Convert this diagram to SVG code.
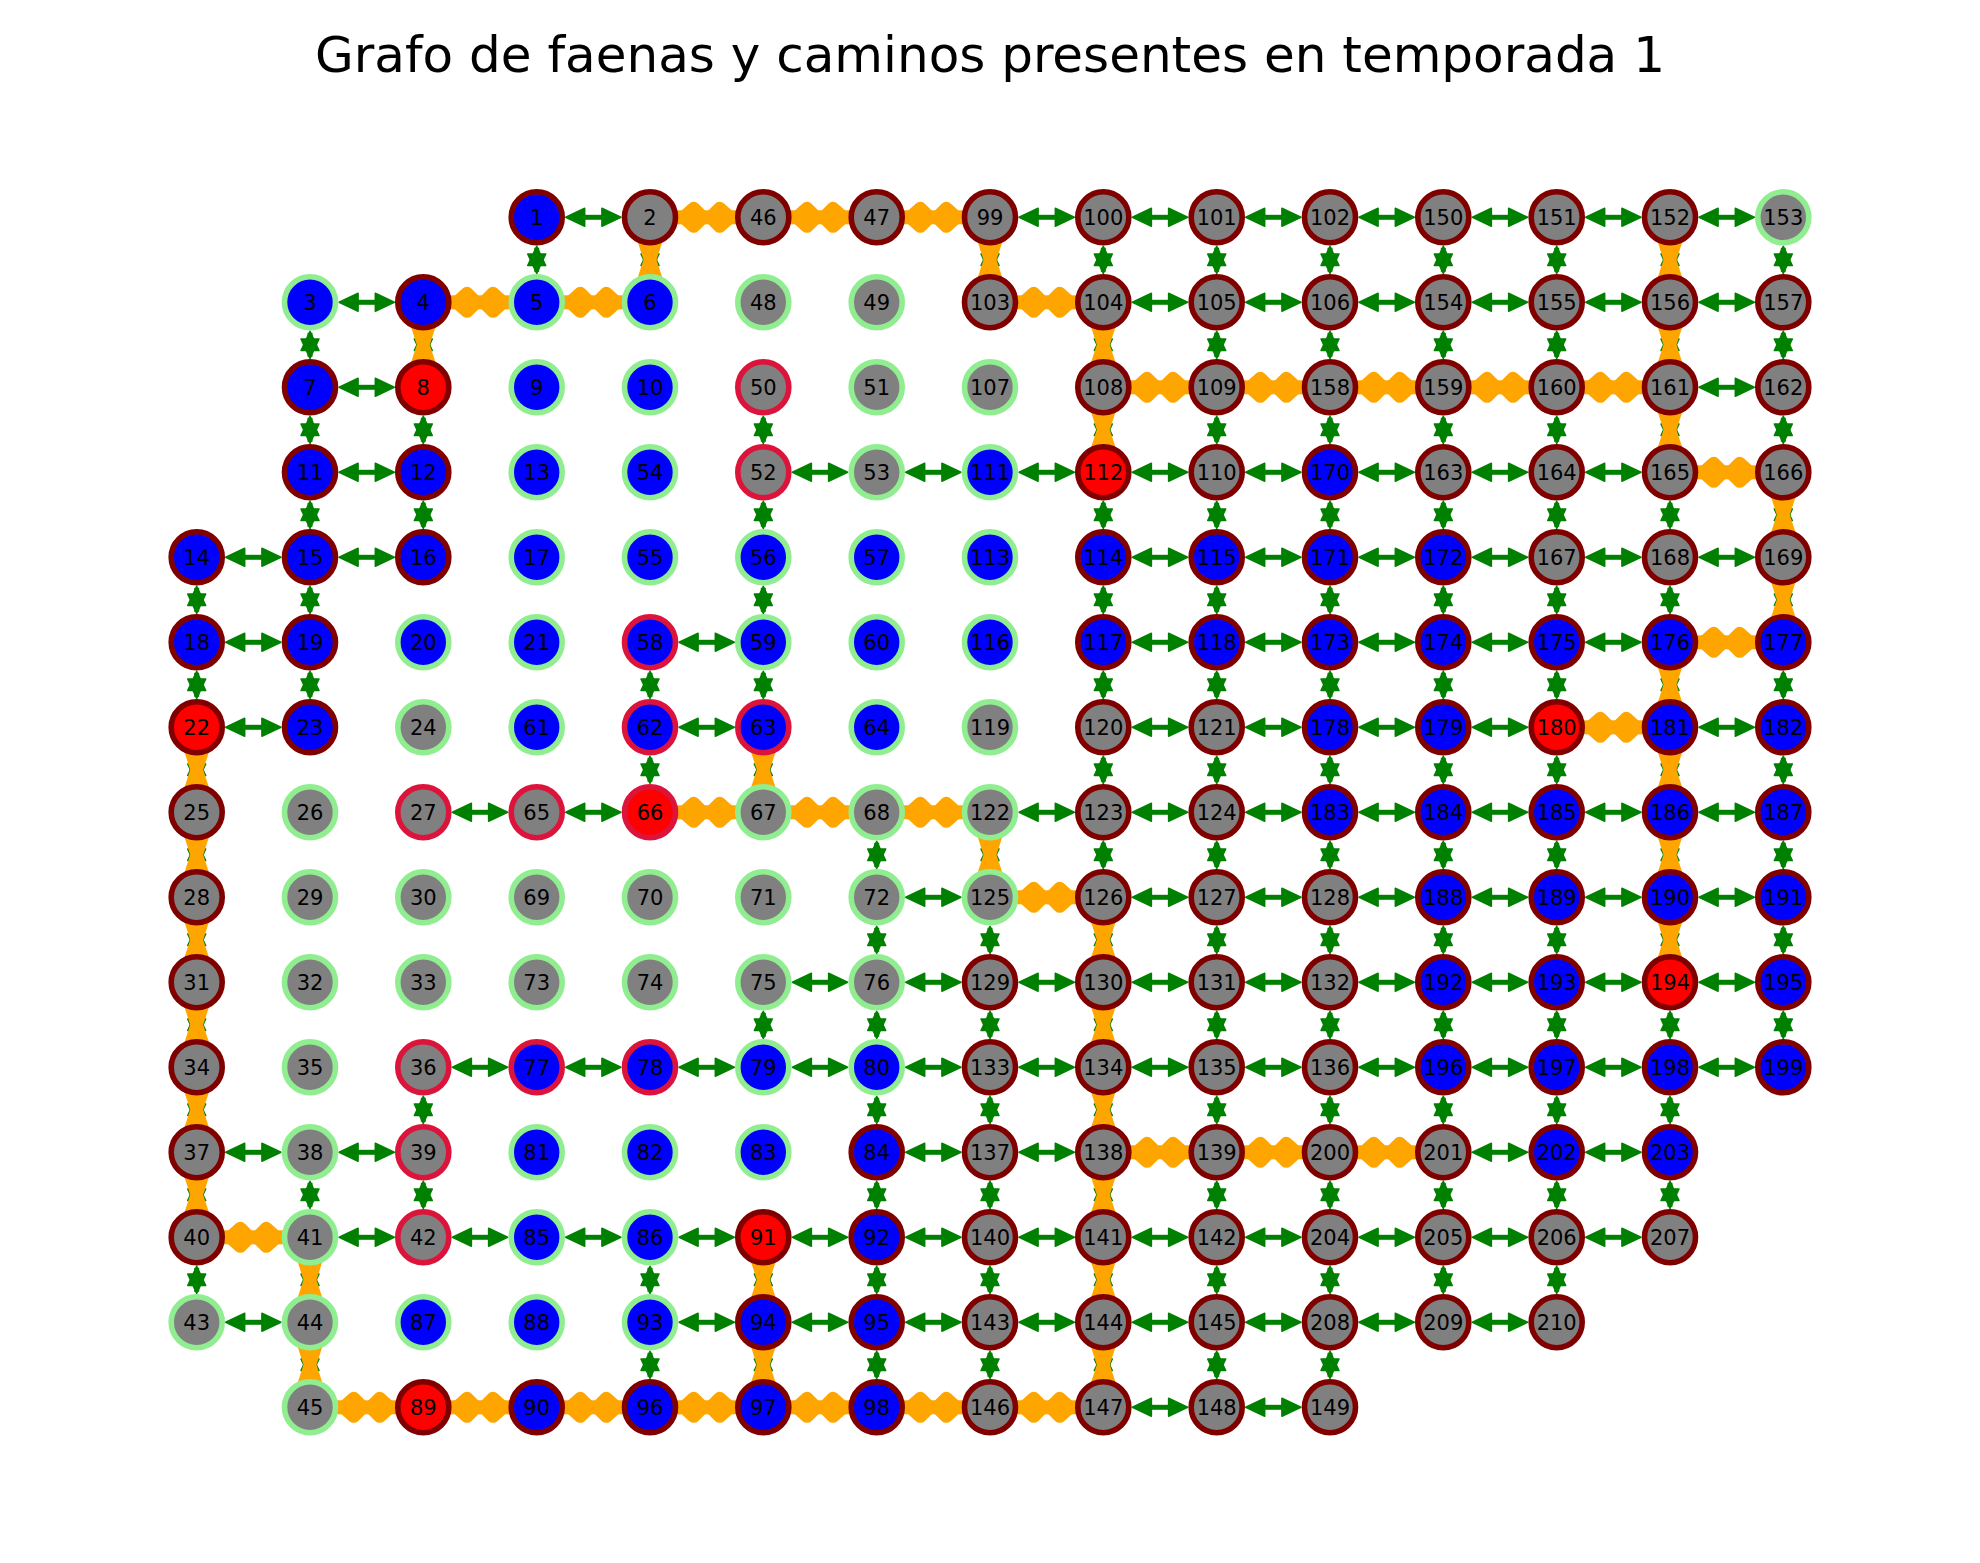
<svg xmlns="http://www.w3.org/2000/svg" xmlns:xlink="http://www.w3.org/1999/xlink" width="1980" height="1563" viewBox="0 0 1980 1563">
<style>
.b{fill:#0000ff}.g{fill:#808080}.r{fill:#ff0000}
.m{stroke:#800000}.l{stroke:#90ee90}.c{stroke:#dc143c}
circle{stroke-width:5.6}
text{font-family:"DejaVu Sans",sans-serif;font-size:21px;text-anchor:middle;fill:#000}
.title{font-size:50px}
.gf{fill:#008000;stroke:#008000;stroke-width:1.5;stroke-linejoin:round}
.gs{stroke:#008000;stroke-width:5}
.of{fill:#ffa500}
.os{fill:#ffa500;stroke:#ffa500;stroke-width:13;stroke-linejoin:round}
</style>
<defs>
<g id="gh"><line class="gs" x1="-12" y1="0" x2="12" y2="0"/><polygon class="gf" points="-27.6,0 -8.6,-9 -8.6,9"/><polygon class="gf" points="27.6,0 8.6,-9 8.6,9"/></g>
<g id="gv"><line class="gs" x1="0" y1="-12" x2="0" y2="12"/><polygon class="gf" points="0,-13.6 9,5.8 -9,5.8"/><polygon class="gf" points="0,13.6 9,-5.8 -9,-5.8"/></g>
<g id="oh"><rect class="of" x="-30" y="-7" width="60" height="14"/><polygon class="os" points="-23,0 -13,-9 -4,0 -13,9"/><polygon class="os" points="23,0 13,-9 4,0 13,9"/></g>
<g id="ov"><polygon class="of" points="-13,-20 13,-20 6.5,0 13,20 -13,20 -6.5,0"/></g>
</defs>
<rect width="1980" height="1563" fill="#ffffff"/>
<text class="title" x="990" y="72">Grafo de faenas y caminos presentes en temporada 1</text>
<g id="edges">
<g id="green-h">
<use href="#gh" x="593.3" y="217.3"/><use href="#gh" x="706.7" y="217.3"/><use href="#gh" x="820" y="217.3"/><use href="#gh" x="933.3" y="217.3"/><use href="#gh" x="1046.7" y="217.3"/><use href="#gh" x="1160" y="217.3"/><use href="#gh" x="1273.3" y="217.3"/><use href="#gh" x="1386.7" y="217.3"/><use href="#gh" x="1500" y="217.3"/><use href="#gh" x="1613.3" y="217.3"/><use href="#gh" x="1726.7" y="217.3"/>
<use href="#gh" x="366.7" y="302.3"/><use href="#gh" x="480" y="302.3"/><use href="#gh" x="593.3" y="302.3"/><use href="#gh" x="1046.7" y="302.3"/><use href="#gh" x="1160" y="302.3"/><use href="#gh" x="1273.3" y="302.3"/><use href="#gh" x="1386.7" y="302.3"/><use href="#gh" x="1500" y="302.3"/><use href="#gh" x="1613.3" y="302.3"/><use href="#gh" x="1726.7" y="302.3"/>
<use href="#gh" x="366.7" y="387.3"/><use href="#gh" x="1160" y="387.3"/><use href="#gh" x="1273.3" y="387.3"/><use href="#gh" x="1386.7" y="387.3"/><use href="#gh" x="1500" y="387.3"/><use href="#gh" x="1613.3" y="387.3"/><use href="#gh" x="1726.7" y="387.3"/>
<use href="#gh" x="366.7" y="472.3"/><use href="#gh" x="820" y="472.3"/><use href="#gh" x="933.3" y="472.3"/><use href="#gh" x="1046.7" y="472.3"/><use href="#gh" x="1160" y="472.3"/><use href="#gh" x="1273.3" y="472.3"/><use href="#gh" x="1386.7" y="472.3"/><use href="#gh" x="1500" y="472.3"/><use href="#gh" x="1613.3" y="472.3"/><use href="#gh" x="1726.7" y="472.3"/>
<use href="#gh" x="253.3" y="557.3"/><use href="#gh" x="366.7" y="557.3"/><use href="#gh" x="1160" y="557.3"/><use href="#gh" x="1273.3" y="557.3"/><use href="#gh" x="1386.7" y="557.3"/><use href="#gh" x="1500" y="557.3"/><use href="#gh" x="1613.3" y="557.3"/><use href="#gh" x="1726.7" y="557.3"/>
<use href="#gh" x="253.3" y="642.3"/><use href="#gh" x="706.7" y="642.3"/><use href="#gh" x="1160" y="642.3"/><use href="#gh" x="1273.3" y="642.3"/><use href="#gh" x="1386.7" y="642.3"/><use href="#gh" x="1500" y="642.3"/><use href="#gh" x="1613.3" y="642.3"/><use href="#gh" x="1726.7" y="642.3"/>
<use href="#gh" x="253.3" y="727.3"/><use href="#gh" x="706.7" y="727.3"/><use href="#gh" x="1160" y="727.3"/><use href="#gh" x="1273.3" y="727.3"/><use href="#gh" x="1386.7" y="727.3"/><use href="#gh" x="1500" y="727.3"/><use href="#gh" x="1613.3" y="727.3"/><use href="#gh" x="1726.7" y="727.3"/>
<use href="#gh" x="480" y="812.3"/><use href="#gh" x="593.3" y="812.3"/><use href="#gh" x="706.7" y="812.3"/><use href="#gh" x="820" y="812.3"/><use href="#gh" x="933.3" y="812.3"/><use href="#gh" x="1046.7" y="812.3"/><use href="#gh" x="1160" y="812.3"/><use href="#gh" x="1273.3" y="812.3"/><use href="#gh" x="1386.7" y="812.3"/><use href="#gh" x="1500" y="812.3"/><use href="#gh" x="1613.3" y="812.3"/><use href="#gh" x="1726.7" y="812.3"/>
<use href="#gh" x="933.3" y="897.3"/><use href="#gh" x="1046.7" y="897.3"/><use href="#gh" x="1160" y="897.3"/><use href="#gh" x="1273.3" y="897.3"/><use href="#gh" x="1386.7" y="897.3"/><use href="#gh" x="1500" y="897.3"/><use href="#gh" x="1613.3" y="897.3"/><use href="#gh" x="1726.7" y="897.3"/>
<use href="#gh" x="820" y="982.3"/><use href="#gh" x="933.3" y="982.3"/><use href="#gh" x="1046.7" y="982.3"/><use href="#gh" x="1160" y="982.3"/><use href="#gh" x="1273.3" y="982.3"/><use href="#gh" x="1386.7" y="982.3"/><use href="#gh" x="1500" y="982.3"/><use href="#gh" x="1613.3" y="982.3"/><use href="#gh" x="1726.7" y="982.3"/>
<use href="#gh" x="480" y="1067.3"/><use href="#gh" x="593.3" y="1067.3"/><use href="#gh" x="706.7" y="1067.3"/><use href="#gh" x="820" y="1067.3"/><use href="#gh" x="933.3" y="1067.3"/><use href="#gh" x="1046.7" y="1067.3"/><use href="#gh" x="1160" y="1067.3"/><use href="#gh" x="1273.3" y="1067.3"/><use href="#gh" x="1386.7" y="1067.3"/><use href="#gh" x="1500" y="1067.3"/><use href="#gh" x="1613.3" y="1067.3"/><use href="#gh" x="1726.7" y="1067.3"/>
<use href="#gh" x="253.3" y="1152.3"/><use href="#gh" x="366.7" y="1152.3"/><use href="#gh" x="933.3" y="1152.3"/><use href="#gh" x="1046.7" y="1152.3"/><use href="#gh" x="1160" y="1152.3"/><use href="#gh" x="1273.3" y="1152.3"/><use href="#gh" x="1386.7" y="1152.3"/><use href="#gh" x="1500" y="1152.3"/><use href="#gh" x="1613.3" y="1152.3"/>
<use href="#gh" x="253.3" y="1237.3"/><use href="#gh" x="366.7" y="1237.3"/><use href="#gh" x="480" y="1237.3"/><use href="#gh" x="593.3" y="1237.3"/><use href="#gh" x="706.7" y="1237.3"/><use href="#gh" x="820" y="1237.3"/><use href="#gh" x="933.3" y="1237.3"/><use href="#gh" x="1046.7" y="1237.3"/><use href="#gh" x="1160" y="1237.3"/><use href="#gh" x="1273.3" y="1237.3"/><use href="#gh" x="1386.7" y="1237.3"/><use href="#gh" x="1500" y="1237.3"/><use href="#gh" x="1613.3" y="1237.3"/>
<use href="#gh" x="253.3" y="1322.3"/><use href="#gh" x="706.7" y="1322.3"/><use href="#gh" x="820" y="1322.3"/><use href="#gh" x="933.3" y="1322.3"/><use href="#gh" x="1046.7" y="1322.3"/><use href="#gh" x="1160" y="1322.3"/><use href="#gh" x="1273.3" y="1322.3"/><use href="#gh" x="1386.7" y="1322.3"/><use href="#gh" x="1500" y="1322.3"/>
<use href="#gh" x="366.7" y="1407.3"/><use href="#gh" x="480" y="1407.3"/><use href="#gh" x="593.3" y="1407.3"/><use href="#gh" x="706.7" y="1407.3"/><use href="#gh" x="820" y="1407.3"/><use href="#gh" x="933.3" y="1407.3"/><use href="#gh" x="1046.7" y="1407.3"/><use href="#gh" x="1160" y="1407.3"/><use href="#gh" x="1273.3" y="1407.3"/>
</g>
<g id="green-v">
<use href="#gv" x="196.7" y="599.8"/><use href="#gv" x="196.7" y="684.8"/><use href="#gv" x="196.7" y="769.8"/><use href="#gv" x="196.7" y="854.8"/><use href="#gv" x="196.7" y="939.8"/><use href="#gv" x="196.7" y="1024.8"/><use href="#gv" x="196.7" y="1109.8"/><use href="#gv" x="196.7" y="1194.8"/><use href="#gv" x="196.7" y="1279.8"/>
<use href="#gv" x="310" y="344.8"/><use href="#gv" x="310" y="429.8"/><use href="#gv" x="310" y="514.8"/><use href="#gv" x="310" y="599.8"/><use href="#gv" x="310" y="684.8"/><use href="#gv" x="310" y="1194.8"/><use href="#gv" x="310" y="1279.8"/><use href="#gv" x="310" y="1364.8"/>
<use href="#gv" x="423.3" y="344.8"/><use href="#gv" x="423.3" y="429.8"/><use href="#gv" x="423.3" y="514.8"/><use href="#gv" x="423.3" y="1109.8"/><use href="#gv" x="423.3" y="1194.8"/>
<use href="#gv" x="536.7" y="259.8"/>
<use href="#gv" x="650" y="259.8"/><use href="#gv" x="650" y="684.8"/><use href="#gv" x="650" y="769.8"/><use href="#gv" x="650" y="1279.8"/><use href="#gv" x="650" y="1364.8"/>
<use href="#gv" x="763.3" y="429.8"/><use href="#gv" x="763.3" y="514.8"/><use href="#gv" x="763.3" y="599.8"/><use href="#gv" x="763.3" y="684.8"/><use href="#gv" x="763.3" y="769.8"/><use href="#gv" x="763.3" y="1024.8"/><use href="#gv" x="763.3" y="1279.8"/><use href="#gv" x="763.3" y="1364.8"/>
<use href="#gv" x="876.7" y="854.8"/><use href="#gv" x="876.7" y="939.8"/><use href="#gv" x="876.7" y="1024.8"/><use href="#gv" x="876.7" y="1109.8"/><use href="#gv" x="876.7" y="1194.8"/><use href="#gv" x="876.7" y="1279.8"/><use href="#gv" x="876.7" y="1364.8"/>
<use href="#gv" x="990" y="259.8"/><use href="#gv" x="990" y="854.8"/><use href="#gv" x="990" y="939.8"/><use href="#gv" x="990" y="1024.8"/><use href="#gv" x="990" y="1109.8"/><use href="#gv" x="990" y="1194.8"/><use href="#gv" x="990" y="1279.8"/><use href="#gv" x="990" y="1364.8"/>
<use href="#gv" x="1103.3" y="259.8"/><use href="#gv" x="1103.3" y="344.8"/><use href="#gv" x="1103.3" y="429.8"/><use href="#gv" x="1103.3" y="514.8"/><use href="#gv" x="1103.3" y="599.8"/><use href="#gv" x="1103.3" y="684.8"/><use href="#gv" x="1103.3" y="769.8"/><use href="#gv" x="1103.3" y="854.8"/><use href="#gv" x="1103.3" y="939.8"/><use href="#gv" x="1103.3" y="1024.8"/><use href="#gv" x="1103.3" y="1109.8"/><use href="#gv" x="1103.3" y="1194.8"/><use href="#gv" x="1103.3" y="1279.8"/><use href="#gv" x="1103.3" y="1364.8"/>
<use href="#gv" x="1216.7" y="259.8"/><use href="#gv" x="1216.7" y="344.8"/><use href="#gv" x="1216.7" y="429.8"/><use href="#gv" x="1216.7" y="514.8"/><use href="#gv" x="1216.7" y="599.8"/><use href="#gv" x="1216.7" y="684.8"/><use href="#gv" x="1216.7" y="769.8"/><use href="#gv" x="1216.7" y="854.8"/><use href="#gv" x="1216.7" y="939.8"/><use href="#gv" x="1216.7" y="1024.8"/><use href="#gv" x="1216.7" y="1109.8"/><use href="#gv" x="1216.7" y="1194.8"/><use href="#gv" x="1216.7" y="1279.8"/><use href="#gv" x="1216.7" y="1364.8"/>
<use href="#gv" x="1330" y="259.8"/><use href="#gv" x="1330" y="344.8"/><use href="#gv" x="1330" y="429.8"/><use href="#gv" x="1330" y="514.8"/><use href="#gv" x="1330" y="599.8"/><use href="#gv" x="1330" y="684.8"/><use href="#gv" x="1330" y="769.8"/><use href="#gv" x="1330" y="854.8"/><use href="#gv" x="1330" y="939.8"/><use href="#gv" x="1330" y="1024.8"/><use href="#gv" x="1330" y="1109.8"/><use href="#gv" x="1330" y="1194.8"/><use href="#gv" x="1330" y="1279.8"/><use href="#gv" x="1330" y="1364.8"/>
<use href="#gv" x="1443.3" y="259.8"/><use href="#gv" x="1443.3" y="344.8"/><use href="#gv" x="1443.3" y="429.8"/><use href="#gv" x="1443.3" y="514.8"/><use href="#gv" x="1443.3" y="599.8"/><use href="#gv" x="1443.3" y="684.8"/><use href="#gv" x="1443.3" y="769.8"/><use href="#gv" x="1443.3" y="854.8"/><use href="#gv" x="1443.3" y="939.8"/><use href="#gv" x="1443.3" y="1024.8"/><use href="#gv" x="1443.3" y="1109.8"/><use href="#gv" x="1443.3" y="1194.8"/><use href="#gv" x="1443.3" y="1279.8"/>
<use href="#gv" x="1556.7" y="259.8"/><use href="#gv" x="1556.7" y="344.8"/><use href="#gv" x="1556.7" y="429.8"/><use href="#gv" x="1556.7" y="514.8"/><use href="#gv" x="1556.7" y="599.8"/><use href="#gv" x="1556.7" y="684.8"/><use href="#gv" x="1556.7" y="769.8"/><use href="#gv" x="1556.7" y="854.8"/><use href="#gv" x="1556.7" y="939.8"/><use href="#gv" x="1556.7" y="1024.8"/><use href="#gv" x="1556.7" y="1109.8"/><use href="#gv" x="1556.7" y="1194.8"/><use href="#gv" x="1556.7" y="1279.8"/>
<use href="#gv" x="1670" y="259.8"/><use href="#gv" x="1670" y="344.8"/><use href="#gv" x="1670" y="429.8"/><use href="#gv" x="1670" y="514.8"/><use href="#gv" x="1670" y="599.8"/><use href="#gv" x="1670" y="684.8"/><use href="#gv" x="1670" y="769.8"/><use href="#gv" x="1670" y="854.8"/><use href="#gv" x="1670" y="939.8"/><use href="#gv" x="1670" y="1024.8"/><use href="#gv" x="1670" y="1109.8"/><use href="#gv" x="1670" y="1194.8"/>
<use href="#gv" x="1783.3" y="259.8"/><use href="#gv" x="1783.3" y="344.8"/><use href="#gv" x="1783.3" y="429.8"/><use href="#gv" x="1783.3" y="514.8"/><use href="#gv" x="1783.3" y="599.8"/><use href="#gv" x="1783.3" y="684.8"/><use href="#gv" x="1783.3" y="769.8"/><use href="#gv" x="1783.3" y="854.8"/><use href="#gv" x="1783.3" y="939.8"/><use href="#gv" x="1783.3" y="1024.8"/>
</g>
<g id="orange-h">
<use href="#oh" x="706.7" y="217.3"/><use href="#oh" x="820" y="217.3"/><use href="#oh" x="933.3" y="217.3"/>
<use href="#oh" x="480" y="302.3"/><use href="#oh" x="593.3" y="302.3"/><use href="#oh" x="1046.7" y="302.3"/>
<use href="#oh" x="1160" y="387.3"/><use href="#oh" x="1273.3" y="387.3"/><use href="#oh" x="1386.7" y="387.3"/><use href="#oh" x="1500" y="387.3"/><use href="#oh" x="1613.3" y="387.3"/>
<use href="#oh" x="1726.7" y="472.3"/>
<use href="#oh" x="1726.7" y="642.3"/>
<use href="#oh" x="1613.3" y="727.3"/>
<use href="#oh" x="706.7" y="812.3"/><use href="#oh" x="820" y="812.3"/><use href="#oh" x="933.3" y="812.3"/>
<use href="#oh" x="1046.7" y="897.3"/>
<use href="#oh" x="1160" y="1152.3"/><use href="#oh" x="1273.3" y="1152.3"/><use href="#oh" x="1386.7" y="1152.3"/>
<use href="#oh" x="253.3" y="1237.3"/>
<use href="#oh" x="366.7" y="1407.3"/><use href="#oh" x="480" y="1407.3"/><use href="#oh" x="593.3" y="1407.3"/><use href="#oh" x="706.7" y="1407.3"/><use href="#oh" x="820" y="1407.3"/><use href="#oh" x="933.3" y="1407.3"/><use href="#oh" x="1046.7" y="1407.3"/>
</g>
<g id="orange-v">
<use href="#ov" x="196.7" y="769.8"/><use href="#ov" x="196.7" y="854.8"/><use href="#ov" x="196.7" y="939.8"/><use href="#ov" x="196.7" y="1024.8"/><use href="#ov" x="196.7" y="1109.8"/><use href="#ov" x="196.7" y="1194.8"/>
<use href="#ov" x="310" y="1279.8"/><use href="#ov" x="310" y="1364.8"/>
<use href="#ov" x="423.3" y="344.8"/>
<use href="#ov" x="650" y="259.8"/>
<use href="#ov" x="763.3" y="769.8"/><use href="#ov" x="763.3" y="1279.8"/><use href="#ov" x="763.3" y="1364.8"/>
<use href="#ov" x="990" y="259.8"/><use href="#ov" x="990" y="854.8"/>
<use href="#ov" x="1103.3" y="344.8"/><use href="#ov" x="1103.3" y="429.8"/><use href="#ov" x="1103.3" y="939.8"/><use href="#ov" x="1103.3" y="1024.8"/><use href="#ov" x="1103.3" y="1109.8"/><use href="#ov" x="1103.3" y="1194.8"/><use href="#ov" x="1103.3" y="1279.8"/><use href="#ov" x="1103.3" y="1364.8"/>
<use href="#ov" x="1670" y="259.8"/><use href="#ov" x="1670" y="344.8"/><use href="#ov" x="1670" y="429.8"/><use href="#ov" x="1670" y="684.8"/><use href="#ov" x="1670" y="769.8"/><use href="#ov" x="1670" y="854.8"/><use href="#ov" x="1670" y="939.8"/>
<use href="#ov" x="1783.3" y="514.8"/><use href="#ov" x="1783.3" y="599.8"/>
</g>
</g>
<g id="nodes">
<g id="n1" transform="translate(536.7 217.3)"><circle class="b m" r="25.5"/><text y="7.6">1</text></g>
<g id="n2" transform="translate(650 217.3)"><circle class="g m" r="25.5"/><text y="7.6">2</text></g>
<g id="n46" transform="translate(763.3 217.3)"><circle class="g m" r="25.5"/><text y="7.6">46</text></g>
<g id="n47" transform="translate(876.7 217.3)"><circle class="g m" r="25.5"/><text y="7.6">47</text></g>
<g id="n99" transform="translate(990 217.3)"><circle class="g m" r="25.5"/><text y="7.6">99</text></g>
<g id="n100" transform="translate(1103.3 217.3)"><circle class="g m" r="25.5"/><text y="7.6">100</text></g>
<g id="n101" transform="translate(1216.7 217.3)"><circle class="g m" r="25.5"/><text y="7.6">101</text></g>
<g id="n102" transform="translate(1330 217.3)"><circle class="g m" r="25.5"/><text y="7.6">102</text></g>
<g id="n150" transform="translate(1443.3 217.3)"><circle class="g m" r="25.5"/><text y="7.6">150</text></g>
<g id="n151" transform="translate(1556.7 217.3)"><circle class="g m" r="25.5"/><text y="7.6">151</text></g>
<g id="n152" transform="translate(1670 217.3)"><circle class="g m" r="25.5"/><text y="7.6">152</text></g>
<g id="n153" transform="translate(1783.3 217.3)"><circle class="g l" r="25.5"/><text y="7.6">153</text></g>
<g id="n3" transform="translate(310 302.3)"><circle class="b l" r="25.5"/><text y="7.6">3</text></g>
<g id="n4" transform="translate(423.3 302.3)"><circle class="b m" r="25.5"/><text y="7.6">4</text></g>
<g id="n5" transform="translate(536.7 302.3)"><circle class="b l" r="25.5"/><text y="7.6">5</text></g>
<g id="n6" transform="translate(650 302.3)"><circle class="b l" r="25.5"/><text y="7.6">6</text></g>
<g id="n48" transform="translate(763.3 302.3)"><circle class="g l" r="25.5"/><text y="7.6">48</text></g>
<g id="n49" transform="translate(876.7 302.3)"><circle class="g l" r="25.5"/><text y="7.6">49</text></g>
<g id="n103" transform="translate(990 302.3)"><circle class="g m" r="25.5"/><text y="7.6">103</text></g>
<g id="n104" transform="translate(1103.3 302.3)"><circle class="g m" r="25.5"/><text y="7.6">104</text></g>
<g id="n105" transform="translate(1216.7 302.3)"><circle class="g m" r="25.5"/><text y="7.6">105</text></g>
<g id="n106" transform="translate(1330 302.3)"><circle class="g m" r="25.5"/><text y="7.6">106</text></g>
<g id="n154" transform="translate(1443.3 302.3)"><circle class="g m" r="25.5"/><text y="7.6">154</text></g>
<g id="n155" transform="translate(1556.7 302.3)"><circle class="g m" r="25.5"/><text y="7.6">155</text></g>
<g id="n156" transform="translate(1670 302.3)"><circle class="g m" r="25.5"/><text y="7.6">156</text></g>
<g id="n157" transform="translate(1783.3 302.3)"><circle class="g m" r="25.5"/><text y="7.6">157</text></g>
<g id="n7" transform="translate(310 387.3)"><circle class="b m" r="25.5"/><text y="7.6">7</text></g>
<g id="n8" transform="translate(423.3 387.3)"><circle class="r m" r="25.5"/><text y="7.6">8</text></g>
<g id="n9" transform="translate(536.7 387.3)"><circle class="b l" r="25.5"/><text y="7.6">9</text></g>
<g id="n10" transform="translate(650 387.3)"><circle class="b l" r="25.5"/><text y="7.6">10</text></g>
<g id="n50" transform="translate(763.3 387.3)"><circle class="g c" r="25.5"/><text y="7.6">50</text></g>
<g id="n51" transform="translate(876.7 387.3)"><circle class="g l" r="25.5"/><text y="7.6">51</text></g>
<g id="n107" transform="translate(990 387.3)"><circle class="g l" r="25.5"/><text y="7.6">107</text></g>
<g id="n108" transform="translate(1103.3 387.3)"><circle class="g m" r="25.5"/><text y="7.6">108</text></g>
<g id="n109" transform="translate(1216.7 387.3)"><circle class="g m" r="25.5"/><text y="7.6">109</text></g>
<g id="n158" transform="translate(1330 387.3)"><circle class="g m" r="25.5"/><text y="7.6">158</text></g>
<g id="n159" transform="translate(1443.3 387.3)"><circle class="g m" r="25.5"/><text y="7.6">159</text></g>
<g id="n160" transform="translate(1556.7 387.3)"><circle class="g m" r="25.5"/><text y="7.6">160</text></g>
<g id="n161" transform="translate(1670 387.3)"><circle class="g m" r="25.5"/><text y="7.6">161</text></g>
<g id="n162" transform="translate(1783.3 387.3)"><circle class="g m" r="25.5"/><text y="7.6">162</text></g>
<g id="n11" transform="translate(310 472.3)"><circle class="b m" r="25.5"/><text y="7.6">11</text></g>
<g id="n12" transform="translate(423.3 472.3)"><circle class="b m" r="25.5"/><text y="7.6">12</text></g>
<g id="n13" transform="translate(536.7 472.3)"><circle class="b l" r="25.5"/><text y="7.6">13</text></g>
<g id="n54" transform="translate(650 472.3)"><circle class="b l" r="25.5"/><text y="7.6">54</text></g>
<g id="n52" transform="translate(763.3 472.3)"><circle class="g c" r="25.5"/><text y="7.6">52</text></g>
<g id="n53" transform="translate(876.7 472.3)"><circle class="g l" r="25.5"/><text y="7.6">53</text></g>
<g id="n111" transform="translate(990 472.3)"><circle class="b l" r="25.5"/><text y="7.6">111</text></g>
<g id="n112" transform="translate(1103.3 472.3)"><circle class="r m" r="25.5"/><text y="7.6">112</text></g>
<g id="n110" transform="translate(1216.7 472.3)"><circle class="g m" r="25.5"/><text y="7.6">110</text></g>
<g id="n170" transform="translate(1330 472.3)"><circle class="b m" r="25.5"/><text y="7.6">170</text></g>
<g id="n163" transform="translate(1443.3 472.3)"><circle class="g m" r="25.5"/><text y="7.6">163</text></g>
<g id="n164" transform="translate(1556.7 472.3)"><circle class="g m" r="25.5"/><text y="7.6">164</text></g>
<g id="n165" transform="translate(1670 472.3)"><circle class="g m" r="25.5"/><text y="7.6">165</text></g>
<g id="n166" transform="translate(1783.3 472.3)"><circle class="g m" r="25.5"/><text y="7.6">166</text></g>
<g id="n14" transform="translate(196.7 557.3)"><circle class="b m" r="25.5"/><text y="7.6">14</text></g>
<g id="n15" transform="translate(310 557.3)"><circle class="b m" r="25.5"/><text y="7.6">15</text></g>
<g id="n16" transform="translate(423.3 557.3)"><circle class="b m" r="25.5"/><text y="7.6">16</text></g>
<g id="n17" transform="translate(536.7 557.3)"><circle class="b l" r="25.5"/><text y="7.6">17</text></g>
<g id="n55" transform="translate(650 557.3)"><circle class="b l" r="25.5"/><text y="7.6">55</text></g>
<g id="n56" transform="translate(763.3 557.3)"><circle class="b l" r="25.5"/><text y="7.6">56</text></g>
<g id="n57" transform="translate(876.7 557.3)"><circle class="b l" r="25.5"/><text y="7.6">57</text></g>
<g id="n113" transform="translate(990 557.3)"><circle class="b l" r="25.5"/><text y="7.6">113</text></g>
<g id="n114" transform="translate(1103.3 557.3)"><circle class="b m" r="25.5"/><text y="7.6">114</text></g>
<g id="n115" transform="translate(1216.7 557.3)"><circle class="b m" r="25.5"/><text y="7.6">115</text></g>
<g id="n171" transform="translate(1330 557.3)"><circle class="b m" r="25.5"/><text y="7.6">171</text></g>
<g id="n172" transform="translate(1443.3 557.3)"><circle class="b m" r="25.5"/><text y="7.6">172</text></g>
<g id="n167" transform="translate(1556.7 557.3)"><circle class="g m" r="25.5"/><text y="7.6">167</text></g>
<g id="n168" transform="translate(1670 557.3)"><circle class="g m" r="25.5"/><text y="7.6">168</text></g>
<g id="n169" transform="translate(1783.3 557.3)"><circle class="g m" r="25.5"/><text y="7.6">169</text></g>
<g id="n18" transform="translate(196.7 642.3)"><circle class="b m" r="25.5"/><text y="7.6">18</text></g>
<g id="n19" transform="translate(310 642.3)"><circle class="b m" r="25.5"/><text y="7.6">19</text></g>
<g id="n20" transform="translate(423.3 642.3)"><circle class="b l" r="25.5"/><text y="7.6">20</text></g>
<g id="n21" transform="translate(536.7 642.3)"><circle class="b l" r="25.5"/><text y="7.6">21</text></g>
<g id="n58" transform="translate(650 642.3)"><circle class="b c" r="25.5"/><text y="7.6">58</text></g>
<g id="n59" transform="translate(763.3 642.3)"><circle class="b l" r="25.5"/><text y="7.6">59</text></g>
<g id="n60" transform="translate(876.7 642.3)"><circle class="b l" r="25.5"/><text y="7.6">60</text></g>
<g id="n116" transform="translate(990 642.3)"><circle class="b l" r="25.5"/><text y="7.6">116</text></g>
<g id="n117" transform="translate(1103.3 642.3)"><circle class="b m" r="25.5"/><text y="7.6">117</text></g>
<g id="n118" transform="translate(1216.7 642.3)"><circle class="b m" r="25.5"/><text y="7.6">118</text></g>
<g id="n173" transform="translate(1330 642.3)"><circle class="b m" r="25.5"/><text y="7.6">173</text></g>
<g id="n174" transform="translate(1443.3 642.3)"><circle class="b m" r="25.5"/><text y="7.6">174</text></g>
<g id="n175" transform="translate(1556.7 642.3)"><circle class="b m" r="25.5"/><text y="7.6">175</text></g>
<g id="n176" transform="translate(1670 642.3)"><circle class="b m" r="25.5"/><text y="7.6">176</text></g>
<g id="n177" transform="translate(1783.3 642.3)"><circle class="b m" r="25.5"/><text y="7.6">177</text></g>
<g id="n22" transform="translate(196.7 727.3)"><circle class="r m" r="25.5"/><text y="7.6">22</text></g>
<g id="n23" transform="translate(310 727.3)"><circle class="b m" r="25.5"/><text y="7.6">23</text></g>
<g id="n24" transform="translate(423.3 727.3)"><circle class="g l" r="25.5"/><text y="7.6">24</text></g>
<g id="n61" transform="translate(536.7 727.3)"><circle class="b l" r="25.5"/><text y="7.6">61</text></g>
<g id="n62" transform="translate(650 727.3)"><circle class="b c" r="25.5"/><text y="7.6">62</text></g>
<g id="n63" transform="translate(763.3 727.3)"><circle class="b c" r="25.5"/><text y="7.6">63</text></g>
<g id="n64" transform="translate(876.7 727.3)"><circle class="b l" r="25.5"/><text y="7.6">64</text></g>
<g id="n119" transform="translate(990 727.3)"><circle class="g l" r="25.5"/><text y="7.6">119</text></g>
<g id="n120" transform="translate(1103.3 727.3)"><circle class="g m" r="25.5"/><text y="7.6">120</text></g>
<g id="n121" transform="translate(1216.7 727.3)"><circle class="g m" r="25.5"/><text y="7.6">121</text></g>
<g id="n178" transform="translate(1330 727.3)"><circle class="b m" r="25.5"/><text y="7.6">178</text></g>
<g id="n179" transform="translate(1443.3 727.3)"><circle class="b m" r="25.5"/><text y="7.6">179</text></g>
<g id="n180" transform="translate(1556.7 727.3)"><circle class="r m" r="25.5"/><text y="7.6">180</text></g>
<g id="n181" transform="translate(1670 727.3)"><circle class="b m" r="25.5"/><text y="7.6">181</text></g>
<g id="n182" transform="translate(1783.3 727.3)"><circle class="b m" r="25.5"/><text y="7.6">182</text></g>
<g id="n25" transform="translate(196.7 812.3)"><circle class="g m" r="25.5"/><text y="7.6">25</text></g>
<g id="n26" transform="translate(310 812.3)"><circle class="g l" r="25.5"/><text y="7.6">26</text></g>
<g id="n27" transform="translate(423.3 812.3)"><circle class="g c" r="25.5"/><text y="7.6">27</text></g>
<g id="n65" transform="translate(536.7 812.3)"><circle class="g c" r="25.5"/><text y="7.6">65</text></g>
<g id="n66" transform="translate(650 812.3)"><circle class="r c" r="25.5"/><text y="7.6">66</text></g>
<g id="n67" transform="translate(763.3 812.3)"><circle class="g l" r="25.5"/><text y="7.6">67</text></g>
<g id="n68" transform="translate(876.7 812.3)"><circle class="g l" r="25.5"/><text y="7.6">68</text></g>
<g id="n122" transform="translate(990 812.3)"><circle class="g l" r="25.5"/><text y="7.6">122</text></g>
<g id="n123" transform="translate(1103.3 812.3)"><circle class="g m" r="25.5"/><text y="7.6">123</text></g>
<g id="n124" transform="translate(1216.7 812.3)"><circle class="g m" r="25.5"/><text y="7.6">124</text></g>
<g id="n183" transform="translate(1330 812.3)"><circle class="b m" r="25.5"/><text y="7.6">183</text></g>
<g id="n184" transform="translate(1443.3 812.3)"><circle class="b m" r="25.5"/><text y="7.6">184</text></g>
<g id="n185" transform="translate(1556.7 812.3)"><circle class="b m" r="25.5"/><text y="7.6">185</text></g>
<g id="n186" transform="translate(1670 812.3)"><circle class="b m" r="25.5"/><text y="7.6">186</text></g>
<g id="n187" transform="translate(1783.3 812.3)"><circle class="b m" r="25.5"/><text y="7.6">187</text></g>
<g id="n28" transform="translate(196.7 897.3)"><circle class="g m" r="25.5"/><text y="7.6">28</text></g>
<g id="n29" transform="translate(310 897.3)"><circle class="g l" r="25.5"/><text y="7.6">29</text></g>
<g id="n30" transform="translate(423.3 897.3)"><circle class="g l" r="25.5"/><text y="7.6">30</text></g>
<g id="n69" transform="translate(536.7 897.3)"><circle class="g l" r="25.5"/><text y="7.6">69</text></g>
<g id="n70" transform="translate(650 897.3)"><circle class="g l" r="25.5"/><text y="7.6">70</text></g>
<g id="n71" transform="translate(763.3 897.3)"><circle class="g l" r="25.5"/><text y="7.6">71</text></g>
<g id="n72" transform="translate(876.7 897.3)"><circle class="g l" r="25.5"/><text y="7.6">72</text></g>
<g id="n125" transform="translate(990 897.3)"><circle class="g l" r="25.5"/><text y="7.6">125</text></g>
<g id="n126" transform="translate(1103.3 897.3)"><circle class="g m" r="25.5"/><text y="7.6">126</text></g>
<g id="n127" transform="translate(1216.7 897.3)"><circle class="g m" r="25.5"/><text y="7.6">127</text></g>
<g id="n128" transform="translate(1330 897.3)"><circle class="g m" r="25.5"/><text y="7.6">128</text></g>
<g id="n188" transform="translate(1443.3 897.3)"><circle class="b m" r="25.5"/><text y="7.6">188</text></g>
<g id="n189" transform="translate(1556.7 897.3)"><circle class="b m" r="25.5"/><text y="7.6">189</text></g>
<g id="n190" transform="translate(1670 897.3)"><circle class="b m" r="25.5"/><text y="7.6">190</text></g>
<g id="n191" transform="translate(1783.3 897.3)"><circle class="b m" r="25.5"/><text y="7.6">191</text></g>
<g id="n31" transform="translate(196.7 982.3)"><circle class="g m" r="25.5"/><text y="7.6">31</text></g>
<g id="n32" transform="translate(310 982.3)"><circle class="g l" r="25.5"/><text y="7.6">32</text></g>
<g id="n33" transform="translate(423.3 982.3)"><circle class="g l" r="25.5"/><text y="7.6">33</text></g>
<g id="n73" transform="translate(536.7 982.3)"><circle class="g l" r="25.5"/><text y="7.6">73</text></g>
<g id="n74" transform="translate(650 982.3)"><circle class="g l" r="25.5"/><text y="7.6">74</text></g>
<g id="n75" transform="translate(763.3 982.3)"><circle class="g l" r="25.5"/><text y="7.6">75</text></g>
<g id="n76" transform="translate(876.7 982.3)"><circle class="g l" r="25.5"/><text y="7.6">76</text></g>
<g id="n129" transform="translate(990 982.3)"><circle class="g m" r="25.5"/><text y="7.6">129</text></g>
<g id="n130" transform="translate(1103.3 982.3)"><circle class="g m" r="25.5"/><text y="7.6">130</text></g>
<g id="n131" transform="translate(1216.7 982.3)"><circle class="g m" r="25.5"/><text y="7.6">131</text></g>
<g id="n132" transform="translate(1330 982.3)"><circle class="g m" r="25.5"/><text y="7.6">132</text></g>
<g id="n192" transform="translate(1443.3 982.3)"><circle class="b m" r="25.5"/><text y="7.6">192</text></g>
<g id="n193" transform="translate(1556.7 982.3)"><circle class="b m" r="25.5"/><text y="7.6">193</text></g>
<g id="n194" transform="translate(1670 982.3)"><circle class="r m" r="25.5"/><text y="7.6">194</text></g>
<g id="n195" transform="translate(1783.3 982.3)"><circle class="b m" r="25.5"/><text y="7.6">195</text></g>
<g id="n34" transform="translate(196.7 1067.3)"><circle class="g m" r="25.5"/><text y="7.6">34</text></g>
<g id="n35" transform="translate(310 1067.3)"><circle class="g l" r="25.5"/><text y="7.6">35</text></g>
<g id="n36" transform="translate(423.3 1067.3)"><circle class="g c" r="25.5"/><text y="7.6">36</text></g>
<g id="n77" transform="translate(536.7 1067.3)"><circle class="b c" r="25.5"/><text y="7.6">77</text></g>
<g id="n78" transform="translate(650 1067.3)"><circle class="b c" r="25.5"/><text y="7.6">78</text></g>
<g id="n79" transform="translate(763.3 1067.3)"><circle class="b l" r="25.5"/><text y="7.6">79</text></g>
<g id="n80" transform="translate(876.7 1067.3)"><circle class="b l" r="25.5"/><text y="7.6">80</text></g>
<g id="n133" transform="translate(990 1067.3)"><circle class="g m" r="25.5"/><text y="7.6">133</text></g>
<g id="n134" transform="translate(1103.3 1067.3)"><circle class="g m" r="25.5"/><text y="7.6">134</text></g>
<g id="n135" transform="translate(1216.7 1067.3)"><circle class="g m" r="25.5"/><text y="7.6">135</text></g>
<g id="n136" transform="translate(1330 1067.3)"><circle class="g m" r="25.5"/><text y="7.6">136</text></g>
<g id="n196" transform="translate(1443.3 1067.3)"><circle class="b m" r="25.5"/><text y="7.6">196</text></g>
<g id="n197" transform="translate(1556.7 1067.3)"><circle class="b m" r="25.5"/><text y="7.6">197</text></g>
<g id="n198" transform="translate(1670 1067.3)"><circle class="b m" r="25.5"/><text y="7.6">198</text></g>
<g id="n199" transform="translate(1783.3 1067.3)"><circle class="b m" r="25.5"/><text y="7.6">199</text></g>
<g id="n37" transform="translate(196.7 1152.3)"><circle class="g m" r="25.5"/><text y="7.6">37</text></g>
<g id="n38" transform="translate(310 1152.3)"><circle class="g l" r="25.5"/><text y="7.6">38</text></g>
<g id="n39" transform="translate(423.3 1152.3)"><circle class="g c" r="25.5"/><text y="7.6">39</text></g>
<g id="n81" transform="translate(536.7 1152.3)"><circle class="b l" r="25.5"/><text y="7.6">81</text></g>
<g id="n82" transform="translate(650 1152.3)"><circle class="b l" r="25.5"/><text y="7.6">82</text></g>
<g id="n83" transform="translate(763.3 1152.3)"><circle class="b l" r="25.5"/><text y="7.6">83</text></g>
<g id="n84" transform="translate(876.7 1152.3)"><circle class="b m" r="25.5"/><text y="7.6">84</text></g>
<g id="n137" transform="translate(990 1152.3)"><circle class="g m" r="25.5"/><text y="7.6">137</text></g>
<g id="n138" transform="translate(1103.3 1152.3)"><circle class="g m" r="25.5"/><text y="7.6">138</text></g>
<g id="n139" transform="translate(1216.7 1152.3)"><circle class="g m" r="25.5"/><text y="7.6">139</text></g>
<g id="n200" transform="translate(1330 1152.3)"><circle class="g m" r="25.5"/><text y="7.6">200</text></g>
<g id="n201" transform="translate(1443.3 1152.3)"><circle class="g m" r="25.5"/><text y="7.6">201</text></g>
<g id="n202" transform="translate(1556.7 1152.3)"><circle class="b m" r="25.5"/><text y="7.6">202</text></g>
<g id="n203" transform="translate(1670 1152.3)"><circle class="b m" r="25.5"/><text y="7.6">203</text></g>
<g id="n40" transform="translate(196.7 1237.3)"><circle class="g m" r="25.5"/><text y="7.6">40</text></g>
<g id="n41" transform="translate(310 1237.3)"><circle class="g l" r="25.5"/><text y="7.6">41</text></g>
<g id="n42" transform="translate(423.3 1237.3)"><circle class="g c" r="25.5"/><text y="7.6">42</text></g>
<g id="n85" transform="translate(536.7 1237.3)"><circle class="b l" r="25.5"/><text y="7.6">85</text></g>
<g id="n86" transform="translate(650 1237.3)"><circle class="b l" r="25.5"/><text y="7.6">86</text></g>
<g id="n91" transform="translate(763.3 1237.3)"><circle class="r m" r="25.5"/><text y="7.6">91</text></g>
<g id="n92" transform="translate(876.7 1237.3)"><circle class="b m" r="25.5"/><text y="7.6">92</text></g>
<g id="n140" transform="translate(990 1237.3)"><circle class="g m" r="25.5"/><text y="7.6">140</text></g>
<g id="n141" transform="translate(1103.3 1237.3)"><circle class="g m" r="25.5"/><text y="7.6">141</text></g>
<g id="n142" transform="translate(1216.7 1237.3)"><circle class="g m" r="25.5"/><text y="7.6">142</text></g>
<g id="n204" transform="translate(1330 1237.3)"><circle class="g m" r="25.5"/><text y="7.6">204</text></g>
<g id="n205" transform="translate(1443.3 1237.3)"><circle class="g m" r="25.5"/><text y="7.6">205</text></g>
<g id="n206" transform="translate(1556.7 1237.3)"><circle class="g m" r="25.5"/><text y="7.6">206</text></g>
<g id="n207" transform="translate(1670 1237.3)"><circle class="g m" r="25.5"/><text y="7.6">207</text></g>
<g id="n43" transform="translate(196.7 1322.3)"><circle class="g l" r="25.5"/><text y="7.6">43</text></g>
<g id="n44" transform="translate(310 1322.3)"><circle class="g l" r="25.5"/><text y="7.6">44</text></g>
<g id="n87" transform="translate(423.3 1322.3)"><circle class="b l" r="25.5"/><text y="7.6">87</text></g>
<g id="n88" transform="translate(536.7 1322.3)"><circle class="b l" r="25.5"/><text y="7.6">88</text></g>
<g id="n93" transform="translate(650 1322.3)"><circle class="b l" r="25.5"/><text y="7.6">93</text></g>
<g id="n94" transform="translate(763.3 1322.3)"><circle class="b m" r="25.5"/><text y="7.6">94</text></g>
<g id="n95" transform="translate(876.7 1322.3)"><circle class="b m" r="25.5"/><text y="7.6">95</text></g>
<g id="n143" transform="translate(990 1322.3)"><circle class="g m" r="25.5"/><text y="7.6">143</text></g>
<g id="n144" transform="translate(1103.3 1322.3)"><circle class="g m" r="25.5"/><text y="7.6">144</text></g>
<g id="n145" transform="translate(1216.7 1322.3)"><circle class="g m" r="25.5"/><text y="7.6">145</text></g>
<g id="n208" transform="translate(1330 1322.3)"><circle class="g m" r="25.5"/><text y="7.6">208</text></g>
<g id="n209" transform="translate(1443.3 1322.3)"><circle class="g m" r="25.5"/><text y="7.6">209</text></g>
<g id="n210" transform="translate(1556.7 1322.3)"><circle class="g m" r="25.5"/><text y="7.6">210</text></g>
<g id="n45" transform="translate(310 1407.3)"><circle class="g l" r="25.5"/><text y="7.6">45</text></g>
<g id="n89" transform="translate(423.3 1407.3)"><circle class="r m" r="25.5"/><text y="7.6">89</text></g>
<g id="n90" transform="translate(536.7 1407.3)"><circle class="b m" r="25.5"/><text y="7.6">90</text></g>
<g id="n96" transform="translate(650 1407.3)"><circle class="b m" r="25.5"/><text y="7.6">96</text></g>
<g id="n97" transform="translate(763.3 1407.3)"><circle class="b m" r="25.5"/><text y="7.6">97</text></g>
<g id="n98" transform="translate(876.7 1407.3)"><circle class="b m" r="25.5"/><text y="7.6">98</text></g>
<g id="n146" transform="translate(990 1407.3)"><circle class="g m" r="25.5"/><text y="7.6">146</text></g>
<g id="n147" transform="translate(1103.3 1407.3)"><circle class="g m" r="25.5"/><text y="7.6">147</text></g>
<g id="n148" transform="translate(1216.7 1407.3)"><circle class="g m" r="25.5"/><text y="7.6">148</text></g>
<g id="n149" transform="translate(1330 1407.3)"><circle class="g m" r="25.5"/><text y="7.6">149</text></g>
</g>
</svg>
